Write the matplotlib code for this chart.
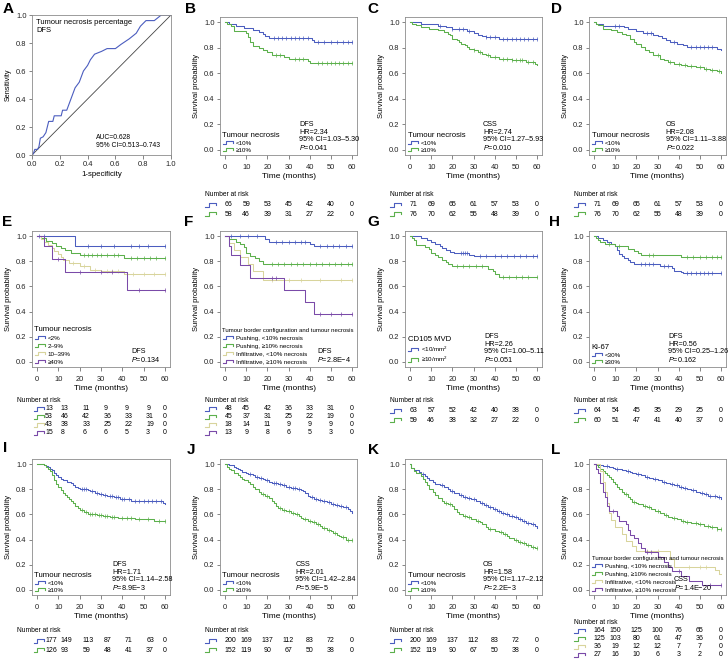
import numpy as np
import matplotlib
matplotlib.use('Agg')
import matplotlib.pyplot as plt
from matplotlib.lines import Line2D
from matplotlib.legend_handler import HandlerBase
from matplotlib.ticker import FormatStrFormatter
from matplotlib.transforms import blended_transform_factory

plt.rcParams['font.family'] = ['Liberation Sans', 'DejaVu Sans']
plt.rcParams['mathtext.fontset'] = 'custom'
plt.rcParams['mathtext.it'] = 'Liberation Sans:italic'
plt.rcParams['mathtext.rm'] = 'Liberation Sans'

BLUE = '#4b5dbf'
GREEN = '#5cb04c'
KHAKI = '#d8d49c'
PURPLE = '#7a4aa8'
W, H = 728, 662

# ---- data ----
roc_fpr = [0, .01, .02, .04, .05, .06, .08, .10, .12, .15, .16, .21, .22, .25, .28, .31, .34, .37,
           .40, .42, .45, .50, .54, .60, .64, .70, .75, .78, .82, .88, .93, 1.0]
roc_tpr = [0, .01, .04, .04, .06, .12, .13, .16, .24, .24, .28, .28, .32, .32, .40, .48, .52, .60,
           .64, .68, .72, .74, .76, .76, .79, .83, .87, .92, .96, .96, 1.0, 1.0]

time_ticks = [0, 10, 20, 30, 40, 50, 60]

# B  DFS
b_lo = [(2, .985), (5, .97), (9, .955), (13, .94), (16, .925), (18, .91), (19, .895), (21, .875), (41, .86), (42, .845)]
b_lo_c = [23, 25, 27, 29, 31, 33, 35, 37, 39, 44, 47, 50, 53, 56, 58, 60]
b_hi = [(1, .983), (3, .966), (4, .933), (10, .915), (11, .88), (12, .847), (13, .813), (16, .797), (18, .78),
        (20, .763), (22, .746), (28, .729), (30, .712), (39, .695), (40, .678)]
b_hi_c = [24, 26, 33, 35, 37, 44, 46, 48, 50, 52, 54, 56, 58, 60]
b_risk = [[66, 59, 53, 45, 42, 40, 0], [58, 46, 39, 31, 27, 22, 0]]

# C  CSS
c_lo = [(5, .986), (13, .972), (17, .958), (20, .944), (27, .93), (30, .916), (32, .902), (34, .888), (36, .88), (42, .866)]
c_lo_c = [14, 20, 23, 25, 28, 36, 38, 40, 44, 46, 48, 50, 52, 54, 56, 58, 60]
c_hi = [(1, .987), (3, .974), (5, .961), (9, .948), (13, .935), (16, .922), (18, .909), (19, .896), (20, .87),
        (22, .857), (23, .844), (24, .831), (26, .818), (27, .805), (28, .792), (30, .779), (32, .766), (34, .753),
        (36, .74), (38, .727), (42, .714), (48, .70), (55, .687), (59, .672), (60, .662)]
c_hi_c = [30, 33, 37, 40, 44, 46, 48, 50, 52, 53, 56, 58]
c_risk = [[71, 69, 65, 61, 57, 53, 0], [76, 70, 62, 55, 48, 39, 0]]

# D  OS
d_lo = [(1, .986), (4, .972), (14, .958), (16, .944), (20, .93), (23, .916), (28, .902), (30, .888), (32, .874),
        (34, .86), (36, .846), (39, .832), (42, .818), (44, .804), (58, .79), (60, .778)]
d_lo_c = [10, 12, 25, 27, 38, 46, 48, 50, 52, 54, 56]
d_hi = [(1, .987), (2, .974), (4, .948), (8, .935), (11, .922), (13, .909), (15, .896), (17, .87), (19, .844),
        (20, .83), (22, .805), (24, .779), (26, .766), (28, .74), (31, .714), (33, .701), (35, .688), (38, .675),
        (41, .665), (44, .655), (48, .645), (52, .635), (55, .625), (58, .615), (60, .60)]
d_hi_c = [30, 36, 40, 43, 46, 50, 53, 56, 59]
d_risk = [[71, 69, 65, 61, 57, 53, 0], [76, 70, 62, 55, 48, 39, 0]]

# E  necrosis 4 groups, DFS
e1 = [(18, .923)]
e1_c = [1, 3, 24, 30, 36, 44, 48, 52, 60]
e2 = [(2, .981), (4, .962), (7, .943), (9, .924), (11, .905), (13, .886), (16, .867), (20, .848), (41, .828)]
e2_c = [22, 24, 26, 28, 30, 33, 36, 38, 44, 47, 50, 53, 56, 60]
e3 = [(2, .977), (3, .953), (5, .93), (7, .906), (8, .883), (10, .859), (11, .835), (12, .81), (15, .786),
      (20, .76), (25, .734), (30, .72), (41, .70)]
e3_c = [17, 22, 27, 33, 35, 38, 45, 50, 55, 60]
e4 = [(3, .917), (7, .815), (13, .713), (42, .57)]
e4_c = [10, 20, 30, 35, 48, 60]
e_risk = [[13, 13, 11, 9, 9, 9, 0], [53, 46, 42, 36, 33, 31, 0], [43, 38, 33, 25, 22, 19, 0], [15, 8, 6, 6, 5, 3, 0]]

# F  border configuration + necrosis, DFS
f1 = [(19, .977), (21, .954), (40, .939), (42, .924)]
f1_c = [3, 7, 11, 15, 24, 27, 30, 33, 36, 38, 45, 48, 51, 54, 57, 60]
f2 = [(2, .978), (5, .955), (7, .933), (9, .91), (10, .866), (12, .844), (14, .822), (16, .80), (18, .776)]
f2_c = [22, 25, 28, 31, 34, 37, 40, 43, 46, 49, 52, 55, 58, 60]
f3 = [(2, .944), (4, .889), (7, .833), (11, .778), (13, .72), (18, .648)]
f3_c = [22, 30, 36, 45, 55, 60]
f4 = [(2, .923), (3, .846), (7, .769), (12, .667), (28, .571), (38, .476), (42, .381)]
f4_c = [22, 24, 45, 50, 55, 60]
f_risk = [[48, 45, 42, 36, 33, 31, 0], [45, 37, 31, 25, 22, 19, 0], [18, 14, 11, 9, 9, 9, 0], [13, 9, 8, 6, 5, 3, 0]]

# G  CD105 MVD, DFS
g1 = [(5, .984), (8, .968), (10, .952), (12, .936), (14, .92), (15, .905), (17, .889), (19, .873), (21, .862),
      (28, .851), (30, .84)]
g1_c = [24, 25, 26, 27, 33, 36, 40, 43, 46, 49, 52, 55, 58, 60]
g2 = [(1, .983), (2, .966), (3, .932), (7, .915), (9, .898), (10, .864), (12, .847), (13, .83), (15, .812),
      (17, .795), (18, .778), (20, .76), (37, .74), (39, .72), (40, .70), (42, .676)]
g2_c = [22, 25, 28, 31, 34, 44, 47, 50, 53, 56, 60]
g_risk = [[63, 57, 52, 42, 40, 38, 0], [59, 46, 38, 32, 27, 22, 0]]

# H  Ki-67, DFS
h1 = [(2, .984), (4, .969), (6, .953), (8, .938), (10, .922), (11, .891), (12, .86), (13, .844), (14, .828),
      (16, .812), (17, .797), (19, .78), (31, .762), (37, .744), (38, .726), (41, .712), (42, .705)]
h1_c = [22, 24, 26, 28, 33, 35, 44, 46, 48, 50, 52, 54, 56, 60]
h2 = [(1, .983), (2, .967), (3, .95), (5, .933), (10, .917), (16, .90), (19, .883), (21, .866), (22, .85), (41, .832)]
h2_c = [7, 12, 26, 28, 44, 47, 50, 53, 56, 58, 60]
h_risk = [[64, 54, 45, 35, 29, 25, 0], [60, 51, 47, 41, 40, 37, 0]]

# I  validation DFS
i1 = [(3, .994), (4, .988), (5, .977), (6, .96), (7, .949), (8, .932), (9, .915), (10, .898), (11, .881), (12, .87),
      (14, .858), (16, .847), (17, .835), (18, .818), (19, .806), (20, .80), (24, .795), (25, .783), (27, .772),
      (29, .76), (31, .754), (33, .743), (36, .737), (39, .726), (42, .72), (44, .71), (45, .703), (59, .69), (60, .68)]
i1_c = [21, 22, 23, 26, 28, 30, 32, 34, 35, 37, 38, 40, 41, 43, 46, 48, 50, 52, 54, 56, 58]
i2 = [(3, .992), (4, .976), (5, .96), (6, .944), (7, .913), (8, .873), (9, .841), (10, .817), (11, .794), (12, .77),
      (13, .754), (14, .738), (15, .722), (16, .706), (17, .69), (18, .67), (19, .65), (20, .634), (22, .618),
      (24, .606), (28, .598), (31, .589), (34, .58), (38, .572), (46, .566), (50, .56), (55, .55)]
i2_c = [21, 23, 25, 26, 27, 29, 30, 32, 33, 35, 36, 40, 42, 44, 48, 52, 57, 60]
i_risk = [[177, 149, 113, 87, 71, 63, 0], [126, 93, 59, 48, 41, 37, 0]]

# J  validation CSS
j1 = [(2, .995), (3, .99), (4, .98), (5, .97), (6, .96), (7, .95), (8, .94), (10, .93), (11, .92), (13, .91),
      (14, .90), (16, .89), (18, .88), (19, .87), (21, .86), (22, .85), (25, .84), (27, .83), (29, .82), (31, .81),
      (34, .80), (36, .795), (37, .785), (38, .77), (39, .75), (40, .735), (42, .725), (44, .715), (46, .705),
      (48, .695), (50, .685), (52, .675), (54, .665), (56, .655), (58, .64), (59, .625), (60, .615)]
j1_c = [12, 15, 17, 20, 23, 24, 26, 28, 30, 32, 33, 35, 41, 43, 45, 47, 49, 51, 53, 55, 57]
j2 = [(1, .98), (2, .96), (3, .95), (4, .93), (6, .915), (7, .90), (8, .885), (9, .87), (11, .855), (12, .84),
      (13, .82), (14, .80), (16, .78), (17, .765), (19, .75), (21, .73), (22, .71), (23, .69), (24, .67), (25, .65),
      (27, .635), (29, .625), (31, .615), (33, .60), (35, .59), (36, .575), (37, .56), (39, .55), (41, .54),
      (43, .525), (45, .51), (46, .495), (48, .48), (50, .465), (51, .45), (53, .44), (54, .43), (55, .42), (57, .40)]
j2_c = [18, 20, 26, 28, 30, 32, 34, 38, 40, 42, 44, 47, 49, 52, 56, 58, 60]
j_risk = [[200, 169, 137, 112, 83, 72, 0], [152, 119, 90, 67, 50, 38, 0]]

# K  validation OS
k1 = [(0.5, .965), (2, .95), (4, .935), (5, .92), (7, .905), (8, .89), (9, .875), (11, .86), (12, .845), (14, .83),
      (16, .815), (18, .80), (19, .785), (21, .77), (23, .755), (25, .74), (27, .73), (29, .72), (31, .705),
      (33, .69), (35, .675), (37, .66), (39, .645), (41, .63), (43, .615), (45, .60), (47, .59), (49, .58),
      (51, .565), (53, .55), (55, .535), (57, .52), (59, .505), (60, .49)]
k1_c = [6, 15, 20, 24, 26, 28, 30, 34, 36, 38, 40, 42, 44, 46, 48, 50, 52, 54, 56, 58]
k2 = [(0.5, .965), (2, .945), (3, .925), (5, .905), (6, .88), (7, .855), (8, .83), (9, .805), (11, .78), (12, .755),
      (13, .73), (15, .71), (16, .69), (18, .68), (20, .67), (21, .645), (22, .62), (23, .60), (25, .59), (27, .58),
      (29, .565), (31, .55), (33, .54), (34, .52), (36, .50), (37, .485), (40, .47), (42, .46), (44, .445),
      (46, .43), (47, .41), (49, .395), (51, .38), (53, .37), (55, .355), (57, .345), (59, .335)]
k2_c = [17, 19, 26, 28, 32, 38, 43, 45, 50, 52, 54, 56, 58, 60]
k_risk = [[200, 169, 137, 112, 83, 72, 0], [152, 119, 90, 67, 50, 38, 0]]

# L  validation border + necrosis, CSS
l1 = [(2, .994), (4, .988), (5, .982), (7, .975), (9, .969), (10, .963), (12, .957), (13, .951), (15, .945),
      (17, .938), (18, .932), (20, .92), (22, .91), (24, .90), (26, .89), (28, .88), (30, .87), (32, .86), (34, .85),
      (36, .845), (38, .835), (40, .82), (42, .81), (44, .80), (46, .79), (48, .78), (50, .77), (52, .76), (54, .75),
      (56, .745), (58, .735), (60, .72)]
l1_c = [6, 11, 16, 21, 25, 29, 33, 37, 39, 41, 43, 47, 51, 53, 55, 57, 59]
l2 = [(1, .992), (2, .976), (3, .96), (4, .944), (5, .928), (6, .912), (7, .896), (8, .88), (9, .86), (10, .84),
      (11, .82), (12, .80), (13, .78), (14, .76), (16, .74), (17, .72), (18, .70), (20, .69), (21, .68), (23, .67),
      (25, .655), (27, .64), (29, .625), (31, .61), (33, .595), (35, .58), (37, .57), (39, .56), (41, .55),
      (43, .54), (46, .53), (49, .52), (52, .51), (55, .50), (58, .485)]
l2_c = [15, 19, 24, 26, 30, 34, 38, 42, 44, 48, 50, 54, 56, 58, 60]
l3 = [(3, .944), (4, .861), (5, .778), (6, .694), (7, .611), (8, .556), (10, .50), (13, .444), (15, .389), (18, .35),
      (20, .31), (36, .248), (38, .186), (57, .155), (59, .13)]
l3_c = [25, 30, 45, 50, 53]
l4 = [(1, .963), (2, .926), (3, .852), (4, .778), (5, .741), (6, .667), (7, .63), (11, .59), (12, .55), (15, .52),
      (16, .48), (17, .44), (19, .41), (21, .37), (22, .33), (24, .30), (30, .26), (33, .22), (35, .185), (37, .15),
      (41, .11), (45, .075), (51, .04)]
l4_c = [9, 25, 27, 40, 55, 60]
l_risk = [[164, 150, 125, 100, 76, 65, 0], [125, 103, 80, 61, 47, 36, 0], [36, 19, 12, 12, 7, 7, 0],
          [27, 16, 10, 6, 3, 2, 0]]

two_labels = ['<10%', '\u226510%']
four_nec = ['<2%', '2\u20139%', '10\u201339%', '\u226540%']
four_border = ['Pushing, <10% necrosis', 'Pushing, \u226510% necrosis',
               'Infiltrative, <10% necrosis', 'Infiltrative, \u226510% necrosis']

fig = plt.figure(figsize=(W / 100, H / 100), dpi=100)


def fy(p):
    return 1 - p / H


def add_frame(l, t, r, b):
    return fig.add_axes([l / W, 1 - b / H, (r - l) / W, (b - t) / H])


def style(ax, xpad=3.5):
    for s in ax.spines.values():
        s.set_color('#8c8c8c')
        s.set_linewidth(0.6)
    ax.tick_params(width=0.5, color='#555555', labelsize=5.4, labelcolor='#222222')
    ax.tick_params(axis='x', length=3, pad=xpad)
    ax.tick_params(axis='y', length=2.5, pad=1.5)
    ax.yaxis.set_major_formatter(FormatStrFormatter('%.1f'))


class StepIcon(HandlerBase):
    def create_artists(self, legend, orig_handle, xdescent, ydescent, width, height, fontsize, trans):
        x = np.array([0, .35, .35, 1, 1]) * width - xdescent
        y = np.array([.1, .1, .9, .9, .35]) * height - ydescent
        ln = Line2D(x, y, color=orig_handle.get_color(), lw=0.8)
        ln.set_transform(trans)
        return [ln]


def km(ax, steps, cens, color):
    t = [0] + [s[0] for s in steps]
    y = [1.0] + [s[1] for s in steps]
    ax.step(t + [60], y + [y[-1]], where='post', color=color, lw=0.75)
    tt = np.array(t)
    cy = [y[np.searchsorted(tt, c, side='right') - 1] for c in cens]
    ax.plot(cens, cy, ls='none', marker='|', ms=2.2, mew=0.5, color=color)


def risk(ax, counts, colors, ys, first_col):
    tr = blended_transform_factory(ax.transData, fig.transFigure)
    fig.text(-9.5, fy(ys[0]), 'Number at risk', transform=tr, fontsize=4.8, va='center', ha='left')
    if first_col:
        x0, x1, xn = -1.5, 3.0, 3.8
    else:
        x0, x1, xn = -9.5, -4.5, -0.3
    for row, c, yp in zip(counts, colors, ys[1:]):
        xs = np.array([0, .35, .35, 1, 1]) * (x1 - x0) + x0
        yy = fy(yp) + (np.array([-.45, -.45, .45, .45, -.1]) * 4.5) / H
        fig.add_artist(Line2D(xs, yy, transform=tr, color=c, lw=0.8))
        for k, n in enumerate(row):
            if k == 0:
                fig.text(xn, fy(yp), str(n), transform=tr, fontsize=5, va='center', ha='left')
            elif first_col and k < 6:
                fig.text(time_ticks[k] + 1.2, fy(yp), str(n), transform=tr, fontsize=5, va='center', ha='left')
            else:
                fig.text(time_ticks[k], fy(yp), str(n), transform=tr, fontsize=5, va='center', ha='center')


def km_panel(box, curves, colors, labels, title, stats, stat_x, counts, ys, first_col,
             leg_title_fs=5.6, spacing=0.22):
    ax = add_frame(*box)
    style(ax)
    for (steps, cens), c in zip(curves, colors):
        km(ax, steps, cens, c)
    ax.set_xlim(-2.4, 62.4)
    ax.set_ylim(-0.04, 1.04)
    ax.set_xticks(time_ticks)
    ax.set_yticks([0, .2, .4, .6, .8, 1.0])
    ax.set_xlabel('Time (months)', fontsize=6, labelpad=1.5)
    ax.set_ylabel('Survival probability', fontsize=5.4, labelpad=3)
    handles = [Line2D([], [], color=c) for c in colors]
    ax.legend(handles, labels, title=title, loc='lower left', frameon=False, fontsize=4.5,
              title_fontsize=leg_title_fs, handlelength=1.6, handleheight=0.7, handletextpad=0.5,
              labelspacing=spacing, borderaxespad=0.2, borderpad=0.2, alignment='left',
              handler_map={Line2D: StepIcon()})
    ax.text(stat_x, 0.02, stats, transform=ax.transAxes, fontsize=5.2, va='bottom', ha='left', linespacing=1.05)
    risk(ax, counts, colors, ys, first_col)
    return ax


def letter(x, y, s):
    fig.text(x / W, fy(y), s, fontsize=11, fontweight='bold', va='center', ha='left')


# ---- A: ROC ----
ax = add_frame(32, 15, 171, 155)
style(ax, xpad=1.5)
ax.xaxis.set_major_formatter(FormatStrFormatter('%.1f'))
ax.plot([0, 1], [0, 1], color='#444444', lw=0.6)
ax.plot(roc_fpr, roc_tpr, color=BLUE, lw=0.8)
ax.set_xlim(0, 1)
ax.set_ylim(0, 1)
ax.set_xticks([0, .2, .4, .6, .8, 1.0])
ax.set_yticks([0, .2, .4, .6, .8, 1.0])
ax.set_xlabel('1-specificity', fontsize=5.6, labelpad=2)
ax.set_ylabel('Sensitivity', fontsize=5.2, labelpad=3)
ax.text(0.03, 0.975, 'Tumour necrosis percentage\nDFS', transform=ax.transAxes, fontsize=5.4, va='top', ha='left')
ax.text(0.46, 0.04, 'AUC=0.628\n95% CI=0.513\u20130.743', transform=ax.transAxes, fontsize=4.9, va='bottom', ha='left')

two = [BLUE, GREEN]
four = [BLUE, GREEN, KHAKI, PURPLE]

r1 = [194, 205, 214]
km_panel((220, 17, 357, 155), [(b_lo, b_lo_c), (b_hi, b_hi_c)], two, two_labels, 'Tumour necrosis',
         'DFS\nHR=2.34\n95% CI=1.03\u20135.30\n$P$=0.041', 0.58, b_risk, r1, False)
km_panel((405, 17, 542, 155), [(c_lo, c_lo_c), (c_hi, c_hi_c)], two, two_labels, 'Tumour necrosis',
         'CSS\nHR=2.74\n95% CI=1.27\u20135.93\n$P$=0.010', 0.57, c_risk, r1, False)
km_panel((589, 17, 726, 155), [(d_lo, d_lo_c), (d_hi, d_hi_c)], two, two_labels, 'Tumour necrosis',
         'OS\nHR=2.08\n95% CI=1.11\u20133.88\n$P$=0.022', 0.56, d_risk, r1, False)

r2 = [401, 409, 417, 425, 433]
km_panel((32, 231, 170, 367), [(e1, e1_c), (e2, e2_c), (e3, e3_c), (e4, e4_c)], four, four_nec, 'Tumour necrosis',
         'DFS\n$P$=0.134', 0.72, e_risk, r2, True, spacing=0.4)
km_panel((220, 231, 357, 367), [(f1, f1_c), (f2, f2_c), (f3, f3_c), (f4, f4_c)], four, four_border,
         'Tumour border configuration and tumour necrosis', 'DFS\n$P$=2.8E\u22124', 0.71, f_risk, r2, False,
         leg_title_fs=4.35, spacing=0.4)
km_panel((405, 231, 542, 367), [(g1, g1_c), (g2, g2_c)], two, ['<10/mm$^2$', '\u226510/mm$^2$'], 'CD105 MVD',
         'DFS\nHR=2.26\n95% CI=1.00\u20135.11\n$P$=0.051', 0.58, g_risk, [401, 411, 420], False)
km_panel((589, 231, 726, 367), [(h1, h1_c), (h2, h2_c)], two, ['<30%', '\u226530%'], 'Ki-67',
         'DFS\nHR=0.56\n95% CI=0.25\u20131.26\n$P$=0.162', 0.58, h_risk, [401, 411, 420], False)

r3 = [630, 641, 650]
km_panel((32, 459, 170, 595), [(i1, i1_c), (i2, i2_c)], two, two_labels, 'Tumour necrosis',
         'DFS\nHR=1.71\n95% CI=1.14\u20132.58\n$P$=8.9E\u22123', 0.58, i_risk, r3, True)
km_panel((220, 459, 357, 595), [(j1, j1_c), (j2, j2_c)], two, two_labels, 'Tumour necrosis',
         'CSS\nHR=2.01\n95% CI=1.42\u20132.84\n$P$=5.9E\u22125', 0.55, j_risk, r3, False)
km_panel((405, 459, 542, 595), [(k1, k1_c), (k2, k2_c)], two, two_labels, 'Tumour necrosis',
         'OS\nHR=1.58\n95% CI=1.17\u20132.12\n$P$=2.2E\u22123', 0.57, k_risk, r3, False)
km_panel((589, 459, 726, 595), [(l1, l1_c), (l2, l2_c), (l3, l3_c), (l4, l4_c)], four, four_border,
         'Tumour border configuration and tumour necrosis', 'CSS\n$P$=1.4E\u221220', 0.62, l_risk,
         [622, 631, 639, 647, 655], False, leg_title_fs=4.35, spacing=0.4)

for x, y, s in [(3, 9, 'A'), (185, 9, 'B'), (367, 9, 'C'), (551, 9, 'D'),
                (2, 222, 'E'), (184, 222, 'F'), (367, 222, 'G'), (549, 222, 'H'),
                (3, 448, 'I'), (187, 450, 'J'), (368, 450, 'K'), (551, 450, 'L')]:
    letter(x, y, s)

fig.savefig('out.png', dpi=100)
